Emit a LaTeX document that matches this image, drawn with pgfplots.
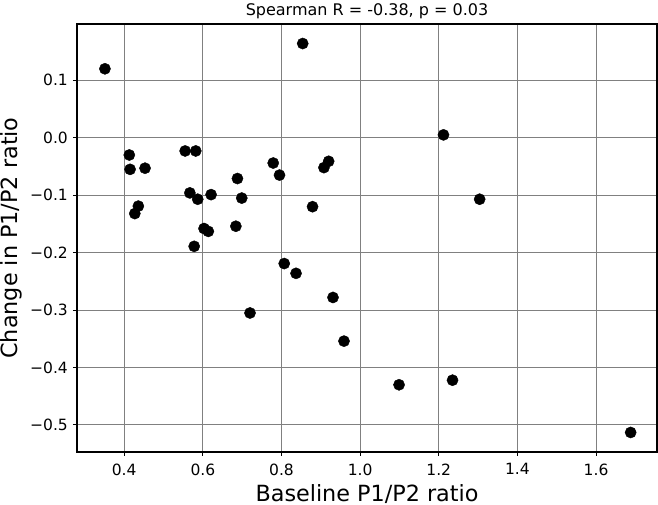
\documentclass[border=0pt]{standalone}
\usepackage{pgfplots}
\pgfplotsset{compat=1.18}
\usepackage{fontspec}
\setmainfont{DejaVu Sans}
\begin{document}
\begin{tikzpicture}
\useasboundingbox (-77pt,-53pt) rectangle (581pt,452pt);
\begin{axis}[
  at={(0pt,0pt)}, anchor=south west,
  scale only axis,
  width=580pt, height=428pt,
  xmin=0.28, xmax=1.755,
  ymin=-0.547, ymax=0.198,
  xtick={0.4,0.6,0.8,1.0,1.2,1.4,1.6},
  xticklabels={0.4,0.6,0.8,1.0,1.2,1.4,1.6},
  ytick={-0.5,-0.4,-0.3,-0.2,-0.1,0.0,0.1},
  yticklabels={−0.5,−0.4,−0.3,−0.2,−0.1,0.0,0.1},
  tick label style={font=\fontsize{15.5}{17}\selectfont},
  xticklabel style={inner sep=0pt, anchor=north, yshift=-7.5pt},
  yticklabel style={inner sep=0pt, anchor=east, xshift=-5pt},
  every axis title shift=0pt,
  title style={font=\fontsize{16}{18}\selectfont, at={(axis description cs:0.5,1)}, anchor=base, yshift=8pt, inner sep=0pt},
  title={Spearman R = -0.38, p = 0.03},
  xlabel={Baseline P1/P2 ratio},
  ylabel={Change in P1/P2 ratio},
  xlabel style={font=\fontsize{22.3}{25}\selectfont, at={(axis description cs:0.5,-0.1145)}, anchor=base, inner sep=0pt},
  ylabel style={font=\fontsize{22.3}{25}\selectfont, at={(axis description cs:-0.1328,0.5)}, anchor=north, rotate=0, inner sep=0pt},
  grid=major,
  major grid style={color=gray, line width=1pt},
  axis line style={black, line width=1.2pt},
  tick style={black, line width=1pt},
  tick align=outside,
  major tick length=4pt,
  xtick pos=bottom, ytick pos=left,
]
\addplot[only marks, mark=*, mark size=5.6pt, black] coordinates {
(0.351,0.120) (0.854,0.164) (0.413,-0.030) (0.415,-0.055) (0.453,-0.053)
(0.555,-0.023) (0.582,-0.023) (0.567,-0.096) (0.587,-0.107) (0.621,-0.099)
(0.688,-0.071) (0.699,-0.105) (0.779,-0.044) (0.795,-0.065) (0.920,-0.041)
(0.908,-0.052) (0.879,-0.120) (0.436,-0.119) (0.427,-0.132) (0.603,-0.158)
(0.614,-0.163) (0.684,-0.154) (0.578,-0.189) (0.807,-0.219) (0.837,-0.236)
(0.931,-0.278) (0.720,-0.305) (0.959,-0.354) (1.212,0.005) (1.304,-0.107)
(1.099,-0.430) (1.235,-0.422) (1.688,-0.513)
};
\end{axis}
\end{tikzpicture}
\end{document}
